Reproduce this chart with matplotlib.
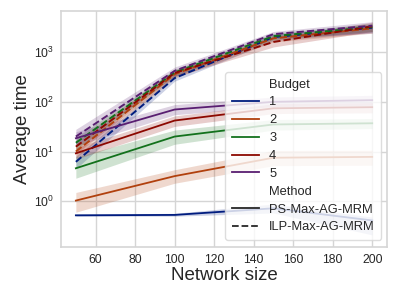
import matplotlib
matplotlib.use("Agg")
import matplotlib.pyplot as plt
from matplotlib.lines import Line2D
import numpy as np

plt.rcParams['font.family'] = ['Liberation Sans', 'DejaVu Sans']
plt.rcParams['mathtext.fontset'] = 'custom'
plt.rcParams['mathtext.rm'] = 'Liberation Sans'
plt.rcParams['mathtext.it'] = 'Liberation Sans:italic'

network_size = [50, 100, 150, 200]
budgets = ["1", "2", "3", "4", "5"]
colors = ['#001c7f', '#b1400d', '#12711c', '#8c0800', '#591e71']

# PS-Max-AG-MRM (solid): mean, lower, upper
ps_mean = [
    [0.52, 0.53, 0.72, 0.41],
    [1.03, 3.2, 7.5, 7.8],
    [4.6, 20, 35, 37],
    [9.2, 42, 74, 78],
    [18.5, 70, 100, 108],
]
ps_lo = [
    [0.50, 0.50, 0.58, 0.21],
    [0.60, 2.3, 5.2, 5.3],
    [2.9, 14, 27, 29],
    [7.0, 32, 58, 60],
    [13, 55, 80, 85],
]
ps_hi = [
    [0.55, 0.57, 0.88, 0.48],
    [1.5, 4.3, 10.5, 10.6],
    [7.8, 27, 44, 46],
    [12, 52, 92, 96],
    [25, 88, 125, 135],
]

# ILP-Max-AG-MRM (dashed): mean, lower, upper
ilp_mean = [
    [6.2, 300, 2000, 3100],
    [10, 360, 1900, 3000],
    [15, 390, 2100, 3200],
    [12.5, 380, 1600, 3300],
    [20, 420, 2300, 3400],
]
ilp_lo = [
    [4.5, 260, 1700, 2500],
    [7.5, 300, 1600, 2400],
    [11, 330, 1800, 2600],
    [9, 320, 1270, 2600],
    [13, 330, 1900, 2400],
]
ilp_hi = [
    [8, 340, 2300, 3600],
    [13, 420, 2200, 3600],
    [19, 450, 2400, 3800],
    [16, 440, 1900, 4000],
    [28, 500, 2600, 4100],
]

fig = plt.figure(figsize=(3.99, 2.99), dpi=100)
ax = fig.add_axes([0.153, 0.174, 0.817, 0.789])
ax.set_facecolor('white')

for i, c in enumerate(colors):
    ax.fill_between(network_size, ps_lo[i], ps_hi[i], color=c, alpha=0.2, linewidth=0)
    ax.plot(network_size, ps_mean[i], color=c, lw=1.3, ls='-')
    ax.fill_between(network_size, ilp_lo[i], ilp_hi[i], color=c, alpha=0.2, linewidth=0)
    ax.plot(network_size, ilp_mean[i], color=c, lw=1.4, ls=(0, (3.7, 1.6)))

ax.set_yscale('log')
ax.set_xlim(42.5, 207.5)
ax.set_ylim(0.12, 6700)
ax.set_xticks([60, 80, 100, 120, 140, 160, 180, 200])
ax.set_yticks([1, 10, 100, 1000])
ax.yaxis.set_minor_locator(matplotlib.ticker.NullLocator())
ax.grid(True, color='#d5d5d5', lw=1.0)
ax.set_axisbelow(True)
for s in ax.spines.values():
    s.set_color('#d5d5d5')
    s.set_linewidth(1.2)
ax.tick_params(axis='both', length=0, labelsize=8.8, colors='#262626', pad=5)
ax.set_xlabel('Network size', fontsize=13.5, color='#262626', labelpad=1)
ax.set_ylabel('Average time', fontsize=13.5, color='#262626', labelpad=2)

handles = [Line2D([], [], color='none')]
labels = ['Budget']
for b, c in zip(budgets, colors):
    handles.append(Line2D([], [], color=c, lw=1.3))
    labels.append(b)
handles.append(Line2D([], [], color='none'))
labels.append('Method')
handles.append(Line2D([], [], color='#262626', lw=1.3))
labels.append('PS-Max-AG-MRM')
handles.append(Line2D([], [], color='#262626', lw=1.3, ls=(0, (3.7, 1.6))))
labels.append('ILP-Max-AG-MRM')
leg = ax.legend(handles, labels, loc='lower right', fontsize=9.3, frameon=True,
                bbox_to_anchor=(0.982, 0.03), borderaxespad=0, labelspacing=0.45,
                borderpad=0.5, handlelength=2.1, handletextpad=0.8)
leg.get_frame().set_edgecolor('#d5d5d5')
for t in leg.get_texts():
    t.set_color('#262626')

fig.savefig('out.png', dpi=100)
